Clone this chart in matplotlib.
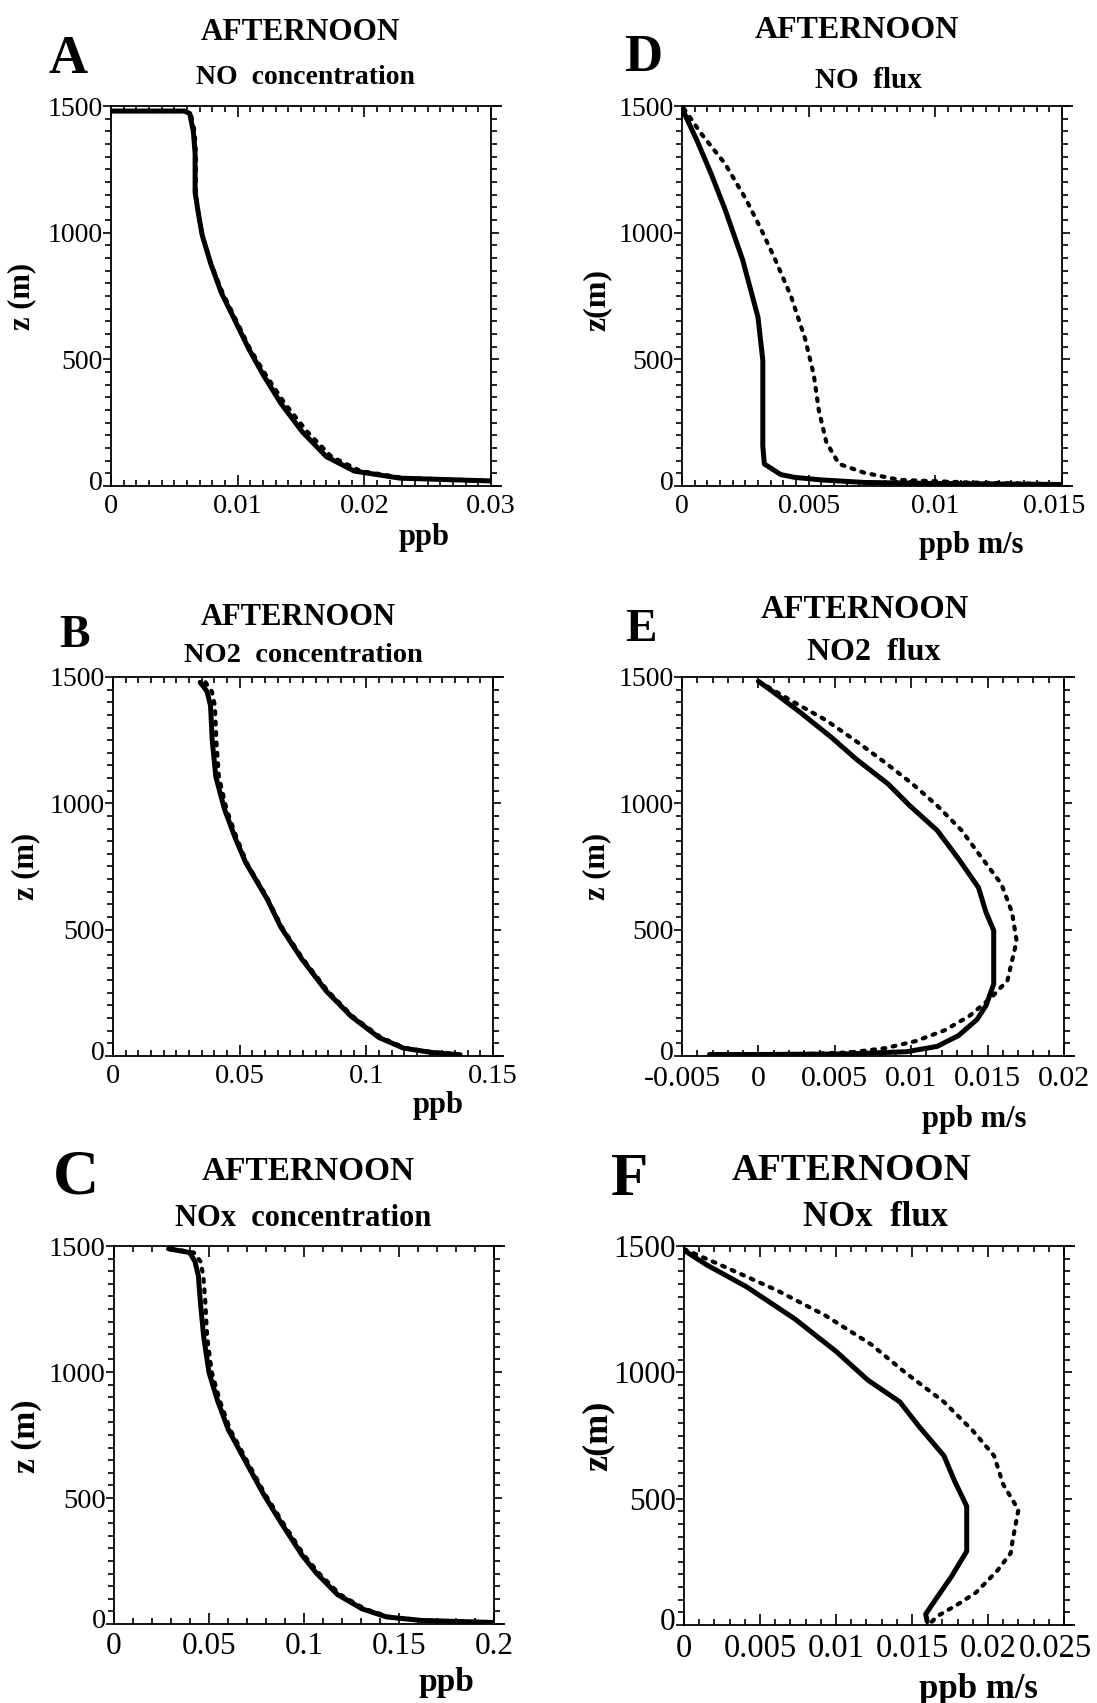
import numpy as np
import matplotlib
matplotlib.use("Agg")
import matplotlib.pyplot as plt
from matplotlib.ticker import MultipleLocator, FuncFormatter
from matplotlib.transforms import ScaledTranslation

plt.rcParams["font.family"] = ["Liberation Serif", "DejaVu Serif"]

W, H = 1097, 1703

# ---- panel A: NO concentration (ppb) ----
a_z = [1480, 1480, 1470, 1399, 1314, 1159, 1075, 990, 877, 764, 652, 539, 440, 327, 214, 116, 59, 31, 20]
a_solid = [0, 0.0058, 0.00622, 0.0065, 0.00664, 0.00664, 0.0069, 0.0072, 0.00788, 0.0087, 0.0098,
           0.0109, 0.0120, 0.0134, 0.0151, 0.0170, 0.0192, 0.0228, 0.030]
a_dash = [0, 0.0058, 0.0063, 0.0066, 0.0067, 0.0067, 0.0069, 0.0072, 0.0079, 0.0088, 0.0099,
          0.0110, 0.0122, 0.0137, 0.0155, 0.0174, 0.0197, 0.0232, 0.030]

# ---- panel B: NO2 concentration (ppb) ----
b_z = [1479, 1443, 1387, 1246, 1105, 977, 864, 765, 624, 511, 384, 257, 158, 73, 31, 14, 6]
b_solid = [0.0344, 0.0371, 0.0385, 0.0392, 0.0406, 0.044, 0.0482, 0.0524, 0.0607, 0.0662, 0.0745,
           0.0842, 0.0939, 0.105, 0.1147, 0.1258, 0.1355]
b_dash = [0.0365, 0.039, 0.0402, 0.0408, 0.0418, 0.0448, 0.0488, 0.0528, 0.061, 0.0666, 0.075,
          0.0848, 0.0945, 0.1058, 0.1155, 0.127, 0.138]

# ---- panel C: NOx concentration (ppb) ----
c_z = [1489, 1474, 1439, 1382, 1283, 1140, 998, 884, 771, 643, 515, 401, 273, 202, 117, 60, 28, 14, 6]
c_solid = [0.0287, 0.0398, 0.0426, 0.0444, 0.0454, 0.0472, 0.05, 0.0546, 0.0602, 0.0694, 0.0787,
           0.088, 0.099, 0.1065, 0.1176, 0.1306, 0.1435, 0.162, 0.2]
c_dash = [0.030, 0.042, 0.0455, 0.047, 0.048, 0.049, 0.0515, 0.0558, 0.0612, 0.0703, 0.0795,
          0.089, 0.1, 0.1078, 0.119, 0.132, 0.145, 0.163, 0.2]

# ---- panel D: NO flux (ppb m/s) ----
d_z_solid = [1491, 1357, 1230, 1089, 891, 666, 496, 158, 87, 45, 34, 24, 14, 10, 6]
d_solid = [0, 0.00062, 0.00116, 0.00171, 0.0024, 0.0030, 0.00319, 0.00319, 0.00325, 0.0039,
           0.00445, 0.0055, 0.0072, 0.0099, 0.015]
d_z_dash = [1491, 1392, 1272, 1131, 1018, 905, 750, 581, 440, 299, 172, 87, 52, 24, 14, 7]
d_dash = [0.00007, 0.00075, 0.0017, 0.00253, 0.0031, 0.00363, 0.0043, 0.00486, 0.0052, 0.0054,
          0.0057, 0.0062, 0.0072, 0.0086, 0.0113, 0.015]

# ---- panel E: NO2 flux (ppb m/s) ----
e_z_solid = [1483, 1443, 1359, 1260, 1175, 1076, 991, 893, 780, 667, 568, 497, 285, 200, 144, 81,
             38, 17, 8, 6, 6]
e_solid = [0, 0.00092, 0.00276, 0.0048, 0.0064, 0.0085, 0.0099, 0.0117, 0.0131, 0.0144, 0.0149,
           0.0154, 0.0154, 0.0149, 0.0143, 0.0131, 0.0117, 0.0097, 0.0057, 0.0, -0.0032]
e_z_dash = [1483, 1401, 1330, 1246, 1161, 1076, 991, 893, 794, 681, 568, 455, 299, 229, 158, 102,
            59, 31, 14, 6, 3]
e_dash = [0, 0.0023, 0.0044, 0.0064, 0.0083, 0.0101, 0.0117, 0.0133, 0.0145, 0.0159, 0.0166,
          0.0169, 0.0163, 0.0152, 0.0138, 0.0122, 0.0103, 0.0083, 0.006, 0.0023, -0.0032]

# ---- panel F: NOx flux (ppb m/s) ----
f_z_solid = [1481, 1425, 1339, 1211, 1083, 969, 883, 783, 670, 570, 470, 292, 192, 114, 43, 14]
f_solid = [0.00005, 0.0015, 0.0041, 0.0073, 0.010, 0.0121, 0.0142, 0.0155, 0.0171, 0.0178,
           0.0186, 0.0186, 0.0176, 0.0167, 0.0159, 0.016]
f_z_dash = [1488, 1417, 1325, 1225, 1111, 997, 883, 769, 670, 556, 456, 328, 285, 214, 128, 85, 36, 7]
f_dash = [0.0, 0.0027, 0.0061, 0.0093, 0.0123, 0.0146, 0.0171, 0.019, 0.0204, 0.021, 0.022,
          0.0216, 0.0215, 0.0206, 0.0192, 0.0181, 0.0167, 0.0162]


def fmt_tick(v, pos):
    if abs(v) < 1e-12:
        return "0"
    return f"{v:.3f}".rstrip("0")


def px_box(left, top, right, bottom):
    return [left / W, 1 - bottom / H, (right - left) / W, (bottom - top) / H]


def ftext(fig, x, y, s, size, weight="bold", rot=0):
    fig.text(x / W, 1 - y / H, s, fontsize=size, fontweight=weight,
             ha="center", va="center", rotation=rot)


def nudge(fig, lab, dx, dy):
    lab.set_transform(lab.get_transform() +
                      ScaledTranslation(dx / 100, dy / 100, fig.dpi_scale_trans))


def make_panel(fig, box, xs, ys, xlim, xmajor, xminor, xfs=20.5, yfs=20.5,
               last_shift=0, xpad=6):
    ax = fig.add_axes(box)
    (xs1, zs1), (xs2, zs2) = xs, ys
    ax.plot(xs1, zs1, color="black", lw=3.6, solid_joinstyle="round", solid_capstyle="round")
    ax.plot(xs2, zs2, color="black", lw=3.0, linestyle=(0, (0.7, 1.8)),
            dash_capstyle="round")
    ax.set_xlim(*xlim)
    ax.set_ylim(0, 1500)
    ax.xaxis.set_major_locator(MultipleLocator(xmajor))
    ax.xaxis.set_minor_locator(MultipleLocator(xminor))
    ax.yaxis.set_major_locator(MultipleLocator(500))
    ax.yaxis.set_minor_locator(MultipleLocator(50))
    ax.xaxis.set_major_formatter(FuncFormatter(fmt_tick))
    ax.tick_params(which="both", top=True, right=True, width=1.2)
    ax.tick_params(axis="x", which="both", direction="in")
    ax.tick_params(axis="y", which="both", direction="out")
    ax.tick_params(axis="x", which="major", length=8)
    ax.tick_params(axis="x", which="minor", length=4.5)
    ax.tick_params(axis="y", which="major", length=6)
    ax.tick_params(axis="y", which="minor", length=4)
    ax.tick_params(axis="y", pad=0, labelsize=yfs)
    ax.tick_params(axis="x", pad=xpad, labelsize=xfs)
    for sp in ax.spines.values():
        sp.set_linewidth(1.3)
    # top and bottom frame lines run a little past the right edge
    ext = 11 / (box[2] * W)
    for yy in (0, 1):
        ax.plot([1, 1 + ext], [yy, yy], transform=ax.transAxes, color="black",
                lw=1.3, clip_on=False, solid_capstyle="butt")
    # the "0" height label sits slightly above its tick, as in the original
    yticks = ax.yaxis.get_major_ticks()
    ylocs = np.asarray(ax.yaxis.get_majorticklocs())
    nudge(fig, yticks[int(np.argmin(np.abs(ylocs)))].label1, 0, 6)
    if last_shift:
        # the right-most x label sits a little left of its tick
        ticks = ax.xaxis.get_major_ticks()
        locs = np.asarray(ax.xaxis.get_majorticklocs())
        nudge(fig, ticks[int(np.argmin(np.abs(locs - xlim[1])))].label1, last_shift, 0)
    return ax


fig = plt.figure(figsize=(W / 100, H / 100), dpi=100)

# A
make_panel(fig, px_box(111, 106, 491, 486), (a_solid, a_z), (a_dash, a_z),
           (0, 0.03), 0.01, 0.001, xfs=20.5, yfs=20)
ftext(fig, 68, 60, "A", 39)
ftext(fig, 300, 33, "AFTERNOON", 22.5)
ftext(fig, 305, 78, "NO  concentration", 20)
ftext(fig, 22, 296, "z (m)", 22, rot=90)
ftext(fig, 424, 538, "ppb", 22)

# D
make_panel(fig, px_box(682, 106, 1062, 486), (d_solid, d_z_solid), (d_dash, d_z_dash),
           (0, 0.015), 0.005, 0.0005, xfs=20, yfs=20, last_shift=-8)
ftext(fig, 643, 58, "D", 38)
ftext(fig, 857, 31, "AFTERNOON", 23)
ftext(fig, 868, 80, "NO  flux", 21)
ftext(fig, 597, 300, "z(m)", 23, rot=90)
ftext(fig, 971, 545, "ppb m/s", 22)

# B
make_panel(fig, px_box(113, 677, 493, 1056), (b_solid, b_z), (b_dash, b_z),
           (0, 0.15), 0.05, 0.005, xfs=20.5, yfs=20)
ftext(fig, 74, 636, "B", 33)
ftext(fig, 298, 617, "AFTERNOON", 22)
ftext(fig, 303, 655, "NO2  concentration", 20.5)
ftext(fig, 26, 866, "z (m)", 22, rot=90)
ftext(fig, 438, 1106, "ppb", 22)

# E
make_panel(fig, px_box(682, 677, 1064, 1056), (e_solid, e_z_solid), (e_dash, e_z_dash),
           (-0.005, 0.02), 0.005, 0.001, xfs=21.5, yfs=20, xpad=7)
ftext(fig, 641, 630, "E", 34)
ftext(fig, 865, 610, "AFTERNOON", 23.5)
ftext(fig, 874, 653, "NO2  flux", 23)
ftext(fig, 597, 866, "z (m)", 22, rot=90)
ftext(fig, 974, 1119, "ppb m/s", 22)

# C
make_panel(fig, px_box(114, 1246, 494, 1624), (c_solid, c_z), (c_dash, c_z),
           (0, 0.2), 0.05, 0.01, xfs=22.5, yfs=20.5)
ftext(fig, 76, 1178, "C", 46)
ftext(fig, 308, 1172, "AFTERNOON", 24)
ftext(fig, 303, 1218, "NOx  concentration", 22)
ftext(fig, 27, 1436, "z (m)", 24, rot=90)
ftext(fig, 446, 1683, "ppb", 24)

# F
make_panel(fig, px_box(684, 1246, 1064, 1625), (f_solid, f_z_solid), (f_dash, f_z_dash),
           (0, 0.025), 0.005, 0.001, xfs=23.5, yfs=22.5, last_shift=-9)
ftext(fig, 630, 1180, "F", 44)
ftext(fig, 852, 1171, "AFTERNOON", 27)
ftext(fig, 876, 1218, "NOx  flux", 25)
ftext(fig, 598, 1436, "z(m)", 26, rot=90)
ftext(fig, 978, 1689, "ppb m/s", 25)

fig.savefig("out.png", dpi=100)
